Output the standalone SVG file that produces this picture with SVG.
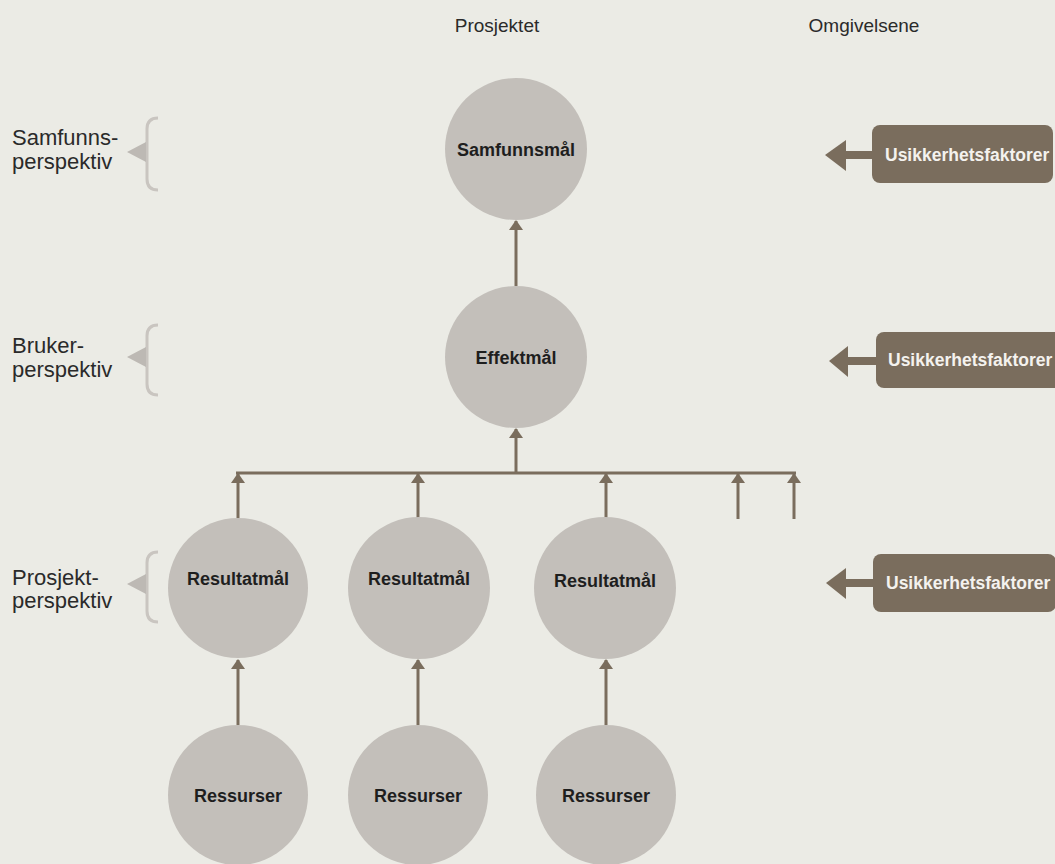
<svg xmlns="http://www.w3.org/2000/svg" width="1055" height="864" viewBox="0 0 1055 864">
<style>
.bg{fill:#ebebe5}
.node circle{fill:#c3bfba}
.node text{font-family:"Liberation Sans",Arial,sans-serif;font-weight:bold;font-size:18px;fill:#1e1e1e;text-anchor:middle}
.lbl{font-family:"Liberation Sans",Arial,sans-serif;font-size:22px;fill:#2a2a2a}
.top{font-family:"Liberation Sans",Arial,sans-serif;font-size:19px;fill:#2a2a2a;text-anchor:middle}
.conn line{stroke:#7a6d5d;stroke-width:3;fill:none}
.brace path{stroke:#c9c5c0;stroke-width:3;fill:none}
.brace polygon{fill:#bdb9b4}
.unc rect{fill:#7a6d5d}
.unc polygon{fill:#7a6d5d}
.unc text{font-family:"Liberation Sans",Arial,sans-serif;font-weight:bold;font-size:17.5px;fill:#f4f2ee}
</style>
<defs>
<marker id="ah" markerUnits="userSpaceOnUse" markerWidth="12" markerHeight="16" refX="9" refY="8" orient="auto">
<path d="M0,1 L10,8 L0,15 Z" fill="#7a6d5d"/>
</marker>
</defs>
<rect class="bg" x="0" y="0" width="1055" height="864"/>

<text class="top" x="497" y="32">Prosjektet</text>
<text class="top" x="864" y="32">Omgivelsene</text>

<g id="label-samfunn" class="brace">
<text class="lbl" x="12" y="145">Samfunns-</text>
<text class="lbl" x="12" y="169">perspektiv</text>
<path d="M158,118 Q147,118 147,129 L147,179 Q147,190 158,190"/>
<polygon points="127,152 146,142 146,162"/>
</g>
<g id="label-bruker" class="brace">
<text class="lbl" x="12" y="353">Bruker-</text>
<text class="lbl" x="12" y="377">perspektiv</text>
<path d="M158,325 Q147,325 147,336 L147,384 Q147,395 158,395"/>
<polygon points="127,357 146,347 146,367"/>
</g>
<g id="label-prosjekt" class="brace">
<text class="lbl" x="12" y="585">Prosjekt-</text>
<text class="lbl" x="12" y="608">perspektiv</text>
<path d="M158,552 Q147,552 147,563 L147,611 Q147,622 158,622"/>
<polygon points="127,584 146,574 146,594"/>
</g>

<g id="connectors" class="conn">
<line x1="516" y1="286" x2="516" y2="221" marker-end="url(#ah)"/>
<line x1="516" y1="473" x2="516" y2="429" marker-end="url(#ah)"/>
<line x1="236" y1="473" x2="796" y2="473"/>
<line x1="238" y1="518" x2="238" y2="474" marker-end="url(#ah)"/>
<line x1="418" y1="518" x2="418" y2="474" marker-end="url(#ah)"/>
<line x1="606" y1="518" x2="606" y2="474" marker-end="url(#ah)"/>
<line x1="738" y1="519" x2="738" y2="474" marker-end="url(#ah)"/>
<line x1="794" y1="519" x2="794" y2="474" marker-end="url(#ah)"/>
<line x1="238" y1="725" x2="238" y2="660" marker-end="url(#ah)"/>
<line x1="418" y1="725" x2="418" y2="660" marker-end="url(#ah)"/>
<line x1="606" y1="725" x2="606" y2="660" marker-end="url(#ah)"/>
</g>

<g id="samfunnsmal" class="node"><circle cx="516" cy="149" r="71"/><text x="516" y="156">Samfunnsmål</text></g>
<g id="effektmal" class="node"><circle cx="516" cy="357" r="71"/><text x="516" y="364">Effektmål</text></g>
<g id="resultatmal-1" class="node"><circle cx="238" cy="588" r="70"/><text x="238" y="585">Resultatmål</text></g>
<g id="resultatmal-2" class="node"><circle cx="419" cy="588" r="71"/><text x="419" y="585">Resultatmål</text></g>
<g id="resultatmal-3" class="node"><circle cx="605" cy="588" r="71"/><text x="605" y="587">Resultatmål</text></g>
<g id="ressurser-1" class="node"><circle cx="238" cy="795" r="70"/><text x="238" y="802">Ressurser</text></g>
<g id="ressurser-2" class="node"><circle cx="418" cy="795" r="70"/><text x="418" y="802">Ressurser</text></g>
<g id="ressurser-3" class="node"><circle cx="606" cy="795" r="70"/><text x="606" y="802">Ressurser</text></g>

<g id="usikkerhet-1" class="unc">
<rect x="872" y="125" width="181" height="58" rx="8"/>
<rect x="845" y="151" width="30" height="8"/>
<polygon points="825,155 846,140 846,171"/>
<text x="885" y="161">Usikkerhetsfaktorer</text>
</g>
<g id="usikkerhet-2" class="unc">
<rect x="876" y="332" width="190" height="56" rx="8"/>
<rect x="846" y="357" width="32" height="8"/>
<polygon points="829,361 848,346 848,377"/>
<text x="888" y="366">Usikkerhetsfaktorer</text>
</g>
<g id="usikkerhet-3" class="unc">
<rect x="873" y="554" width="183" height="58" rx="8"/>
<rect x="844" y="579" width="32" height="8"/>
<polygon points="826,583 846,568 846,599"/>
<text x="886" y="589">Usikkerhetsfaktorer</text>
</g>
</svg>
